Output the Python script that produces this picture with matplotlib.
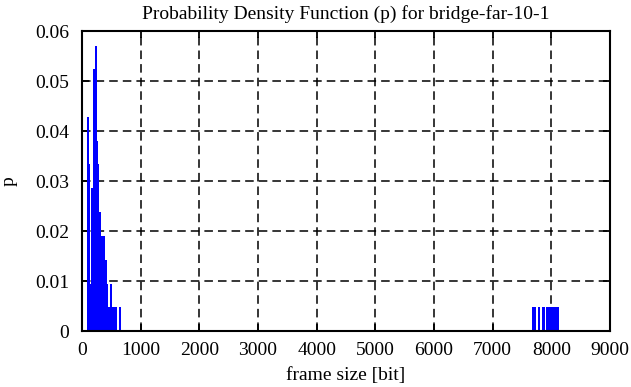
import numpy as np
import matplotlib
matplotlib.use("Agg")
import matplotlib.pyplot as plt

# bin edges (bits) and probability per bin
edges = [80, 114, 136, 159, 187, 227, 256, 273, 290, 319, 392, 421, 443, 477,
         516, 602, 626, 660,
         7670, 7747, 7767, 7812, 7833, 7887, 7904, 7955, 7966, 8127]
p = [0.0429, 0.0333, 0.0095, 0.0286, 0.0524, 0.0571, 0.0381, 0.0333, 0.0238,
     0.0190, 0.0143, 0.0095, 0.0048, 0.0095, 0.0048, 0.0, 0.0048,
     0.0,
     0.0048, 0.0, 0.0048, 0.0, 0.0048, 0.0, 0.0048, 0.0, 0.0048]

xticks = [0, 1000, 2000, 3000, 4000, 5000, 6000, 7000, 8000, 9000]
yticks = [0, 0.01, 0.02, 0.03, 0.04, 0.05, 0.06]
ytick_labels = ["0", "0.01", "0.02", "0.03", "0.04", "0.05", "0.06"]

plt.rcParams["font.family"] = ["Liberation Serif", "DejaVu Serif"]
plt.rcParams["font.size"] = 14

fig = plt.figure(figsize=(6.31, 3.87), dpi=100)
ax = fig.add_axes([82 / 631, 1 - 331 / 387, 528 / 631, 300 / 387])

ax.stairs(p, edges, fill=True, color="#0000ff", lw=0, zorder=2)

ax.set_xlim(0, 9000)
ax.set_ylim(0, 0.06)
ax.set_xticks(xticks)
ax.set_yticks(yticks)
ax.set_yticklabels(ytick_labels)

# gnuplot-like dashed grid behind the boxes
for x in xticks[1:-1]:
    ax.axvline(x, color="black", lw=1.1, ls=(0, (5.6, 3.3)), zorder=1)
for y in yticks[1:-1]:
    ax.axhline(y, color="black", lw=1.1, ls=(0, (5.6, 3.3)), zorder=1)

ax.tick_params(direction="in", length=5, width=1.3, top=True, right=True,
               pad=8, labelsize=14)
ax.tick_params(axis="y", pad=9)
for s in ax.spines.values():
    s.set_linewidth(1.5)

ax.set_xlabel("frame size [bit]", fontsize=14, labelpad=6)
ax.set_ylabel("p", fontsize=14, labelpad=13)
ax.set_title("Probability Density Function (p) for bridge-far-10-1",
             fontsize=14, pad=9)

fig.savefig("out.png", dpi=100)
